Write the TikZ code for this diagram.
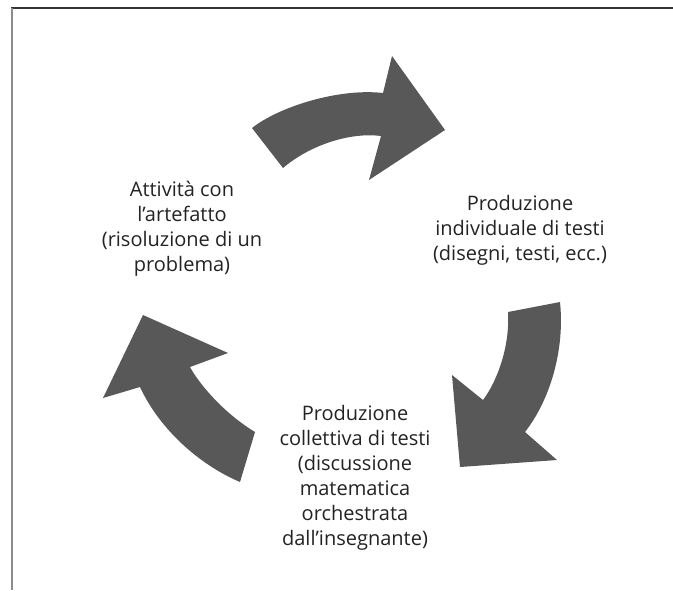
\documentclass[tikz,border=0pt]{standalone}
\usepackage{fontspec}
\setmainfont{Open Sans}

\definecolor{arrowgray}{RGB}{88,88,88}
\definecolor{textgray}{RGB}{35,35,35}

\begin{document}
\begin{tikzpicture}[x=0.75pt, y=-0.75pt, label node/.style={align=center,inner sep=0pt,text=textgray,font=\fontsize{15}{18.75}\selectfont}, cycle arrow/.style={fill=arrowgray,draw=none}]%
\useasboundingbox (0,0) rectangle (673,590);
% frame
\draw[line width=0.9pt, black!80] (11,8) -- (673,8);
\draw[line width=1.2pt, black!45] (12,8) -- (12,590);
\begin{scope}
\node[label node] (art) at (182,229) {Attività con\\l’artefatto\\(risoluzione di un\\problema)};
\node[label node] (ind) at (520,230) {Produzione\\individuale di testi\\(disegni, testi, ecc.)};
\node[label node] (col) at (355,477.5) {Produzione\\collettiva di testi\\(discussione\\matematica\\orchestrata\\dall’insegnante)};
\end{scope}
\begin{scope}[cycle arrow]
% top arrow
\fill (252,128) .. controls (280,106) and (340,88) .. (383,93) -- (392,56) -- (445,130) -- (369,180) -- (381,136)
  .. controls (350,132) and (310,145) .. (283,168) -- cycle;
% right arrow
\fill (560,302) .. controls (565,350) and (550,400) .. (525,432) -- (557,460) -- (460,467) -- (452,375) -- (483,400)
  .. controls (498,380) and (510,345) .. (508,312) -- cycle;
% left arrow
\fill (143,315) -- (228,353) -- (190,367) .. controls (198,382) and (222,412) .. (255,432) -- (240,482)
  .. controls (200,465) and (160,430) .. (140,387) -- (103,398) -- cycle;
\end{scope}
\end{tikzpicture}
\end{document}
